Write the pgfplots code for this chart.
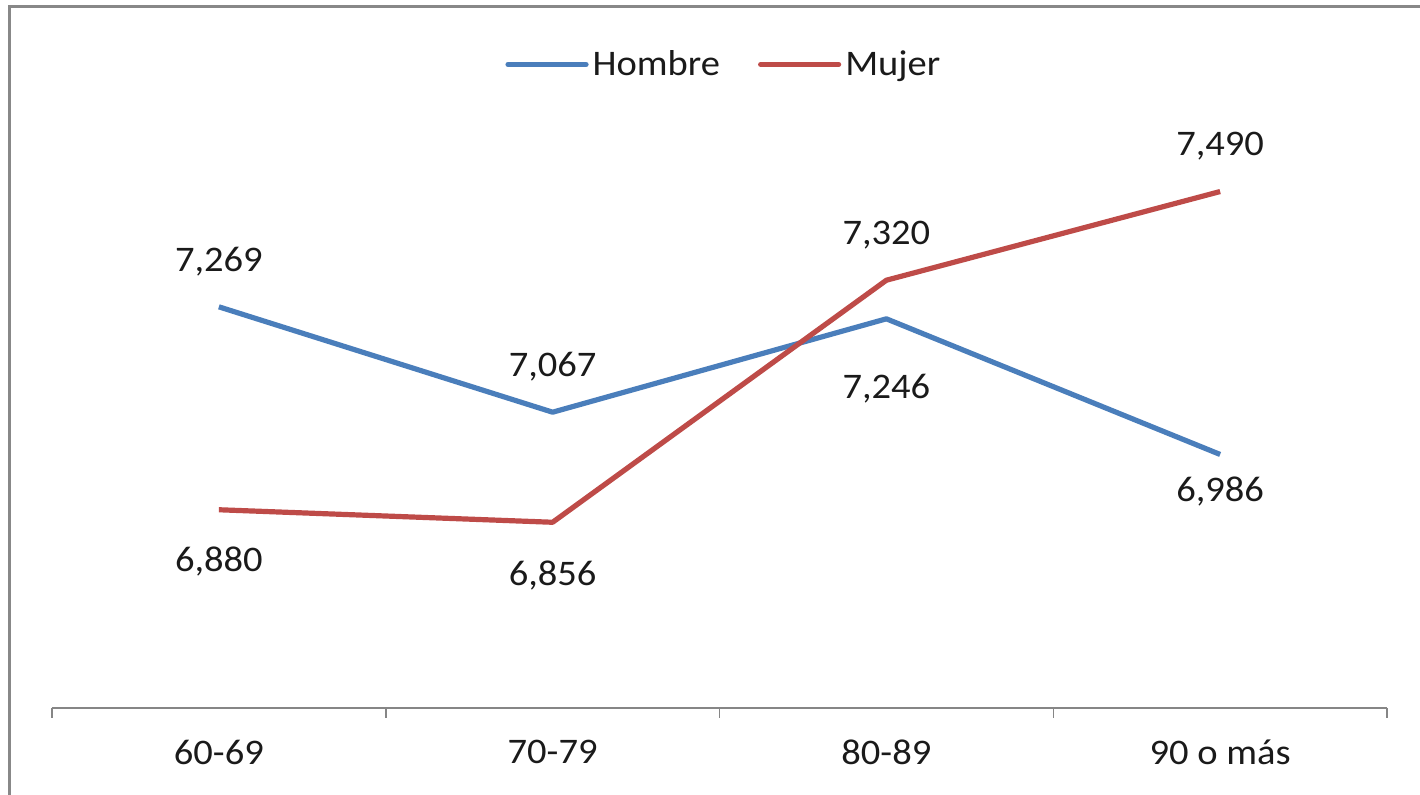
\documentclass[border=0pt]{standalone}
\usepackage{pgfplots}
\usepackage{pgfplotstable}
\pgfplotsset{compat=1.18}
\usepackage{fontspec}
\setmainfont{Carlito}[FakeStretch=1.07]

\definecolor{hombre}{HTML}{4A7EBB}
\definecolor{mujer}{HTML}{BE4B48}
\definecolor{framegray}{HTML}{888888}
\definecolor{axisgray}{HTML}{868686}
\definecolor{txt}{HTML}{1A1A1A}

% x = age group index, y = value, off = vertical shift of the value label (pt)
\pgfplotstableread{
x y off
0 7.269 22.5
1 7.067 23
2 7.246 -35
3 6.986 -18.5
}\hombredata
\pgfplotstableread{
x y off
0 6.880 -26
1 6.856 -26.5
2 7.320 22.5
3 7.490 22.5
}\mujerdata

\newcommand{\chartfont}{\fontsize{18}{21}\selectfont}

\begin{document}
\begin{tikzpicture}[font=\chartfont]
\useasboundingbox (-26pt,-43.5pt) rectangle (684pt,354pt);
\draw[framegray, line width=1.5pt] (-21pt,350.5pt) rectangle (700pt,-60pt);
\begin{axis}[
  at={(0,0)}, anchor=south west,
  width=667.5pt, height=313pt, scale only axis,
  xmin=-0.5, xmax=3.5, ymin=6.5, ymax=7.7,
  axis x line*=bottom, axis y line=none,
  x axis line style={axisgray, line width=0.75pt, -},
  xtick={0,1,2,3},
  xticklabels={60-69,70-79,80-89,90 o más},
  major tick length=0pt,
  minor xtick={-0.5,0.5,1.5,2.5,3.5},
  minor tick length=5pt,
  tick align=outside,
  xtick pos=bottom,
  minor tick style={axisgray, line width=0.75pt},
  ytick=\empty,
  xticklabel style={font=\chartfont, text=txt, anchor=center, yshift=-22pt},
  legend style={at={(0.504,1.028)}, anchor=center, draw=none, fill=none,
    font=\chartfont, text=txt, legend columns=2,
    /tikz/every even column/.append style={column sep=17pt}},
  legend image code/.code={\draw[#1, line cap=round] (0pt,0pt) -- (39pt,0pt);},
  /pgf/number format/.cd, fixed, fixed zerofill, precision=3, use comma, assume math mode=true,
]
\addplot[hombre, line width=2.6pt, line join=round,
  nodes near coords, point meta=y,
  visualization depends on={\thisrow{off}\as\off},
  nodes near coords align={anchor=center},
  every node near coord/.append style={text=txt, anchor=center, yshift=\off pt, font=\chartfont}]
  table[x=x, y=y] {\hombredata};
\addlegendentry{Hombre}
\addplot[mujer, line width=2.6pt, line join=round,
  nodes near coords, point meta=y,
  visualization depends on={\thisrow{off}\as\off},
  nodes near coords align={anchor=center},
  every node near coord/.append style={text=txt, anchor=center, yshift=\off pt, font=\chartfont}]
  table[x=x, y=y] {\mujerdata};
\addlegendentry{Mujer}
\end{axis}
\end{tikzpicture}
\end{document}
